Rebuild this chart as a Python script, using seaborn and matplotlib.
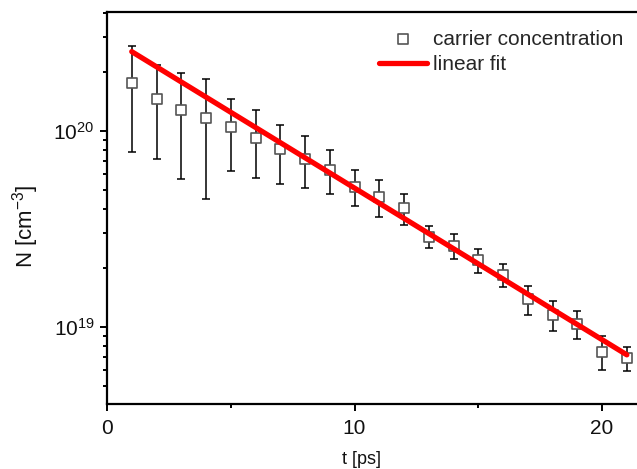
import numpy as np
import pandas as pd
import matplotlib
matplotlib.use("Agg")
import matplotlib.pyplot as plt
import matplotlib.ticker as mticker
import seaborn as sns

# ---- data ----
t_ps = [1, 2, 3, 4, 5, 6, 7, 8, 9, 10, 11, 12, 13, 14, 15, 16, 17, 18, 19, 20, 21]
N_cm3 = [1.74e20, 1.45e20, 1.27e20, 1.16e20, 1.04e20, 9.2e19, 8.09e19, 7.2e19,
         6.32e19, 5.18e19, 4.6e19, 4.05e19, 2.87e19, 2.59e19, 2.19e19, 1.84e19,
         1.38e19, 1.15e19, 1.035e19, 7.45e18, 6.92e18]
N_upper = [2.71e20, 2.16e20, 1.96e20, 1.84e20, 1.45e20, 1.27e20, 1.07e20, 9.36e19,
           7.94e19, 6.28e19, 5.58e19, 4.74e19, 3.25e19, 2.96e19, 2.48e19, 2.08e19,
           1.61e19, 1.35e19, 1.2e19, 8.93e18, 7.87e18]
N_lower = [7.76e19, 7.18e19, 5.68e19, 4.47e19, 6.21e19, 5.74e19, 5.35e19, 5.08e19,
           4.74e19, 4.11e19, 3.61e19, 3.29e19, 2.52e19, 2.21e19, 1.88e19, 1.59e19,
           1.15e19, 9.5e18, 8.65e18, 6.01e18, 5.94e18]
fit_t = [1, 21]
fit_N = [2.53e20, 7.18e18]

x_ticks = [0, 10, 20]
x_label = "t [ps]"
y_label = "N [cm$^{-3}$]"
legend_labels = ["carrier concentration", "linear fit"]

df = pd.DataFrame({"t": t_ps, "N": N_cm3, "lo": N_lower, "hi": N_upper})
df_fit = pd.DataFrame({"t": fit_t, "N": fit_N})

sns.set_theme(style="ticks")
plt.rcParams["font.family"] = ["Liberation Sans", "DejaVu Sans"]
plt.rcParams["mathtext.fontset"] = "custom"
plt.rcParams["mathtext.rm"] = "Liberation Sans"
plt.rcParams["mathtext.it"] = "Liberation Sans:italic"
plt.rcParams["mathtext.default"] = "regular"

fig = plt.figure(figsize=(6.37, 4.69), dpi=100)
ax = fig.add_axes([107 / 637, 1 - 404 / 469, 530 / 637, 392 / 469])

# error bars
yerr = np.array([df["N"] - df["lo"], df["hi"] - df["N"]])
ax.errorbar(df["t"], df["N"], yerr=yerr, fmt="none", ecolor="black",
            elinewidth=1.1, capsize=3.0, capthick=1.1, zorder=2)

# data squares
sns.scatterplot(data=df, x="t", y="N", marker="s", s=60, facecolor="white",
                edgecolor="#555555", linewidth=1.2, ax=ax, zorder=3,
                label=legend_labels[0])

# fit line
sns.lineplot(data=df_fit, x="t", y="N", color="#ff0000", linewidth=3.8, ax=ax,
             zorder=4, label=legend_labels[1])

ax.set_yscale("log")
ax.set_xlim(0, 21.41)
ax.set_ylim(4.03e18, 4.03e20)

ax.set_xticks(x_ticks)
ax.xaxis.set_minor_locator(mticker.MultipleLocator(5))
ax.yaxis.set_major_locator(mticker.LogLocator(base=10, numticks=10))
ax.yaxis.set_minor_locator(mticker.LogLocator(base=10, subs=np.arange(2, 10), numticks=20))
ax.yaxis.set_minor_formatter(mticker.NullFormatter())
ax.yaxis.set_major_formatter(mticker.FuncFormatter(
    lambda v, p: "$10^{%d}$" % round(np.log10(v))))

ax.tick_params(axis="both", which="major", direction="out", length=5, width=1.4,
               labelsize=15, color="black", labelcolor="#111111", pad=4)
ax.tick_params(axis="x", which="major", pad=6)
ax.tick_params(axis="both", which="minor", direction="out", length=3, width=1.4,
               color="black")

for side in ["left", "bottom", "top"]:
    ax.spines[side].set_linewidth(1.6)
    ax.spines[side].set_color("black")
ax.spines["right"].set_visible(False)

ax.set_xlabel(x_label, fontsize=13, color="#111111")
ax.set_ylabel(y_label, fontsize=16, color="#111111")
ax.xaxis.set_label_coords(0.481, -0.12)
ax.yaxis.set_label_coords(-0.125, 0.454)

leg = ax.legend(loc="upper left", bbox_to_anchor=(0.513, 0.955), frameon=False,
                fontsize=15, handlelength=2.3, handletextpad=0.3,
                labelspacing=0.3, borderpad=0, borderaxespad=0)

fig.savefig("out.png", dpi=100)
